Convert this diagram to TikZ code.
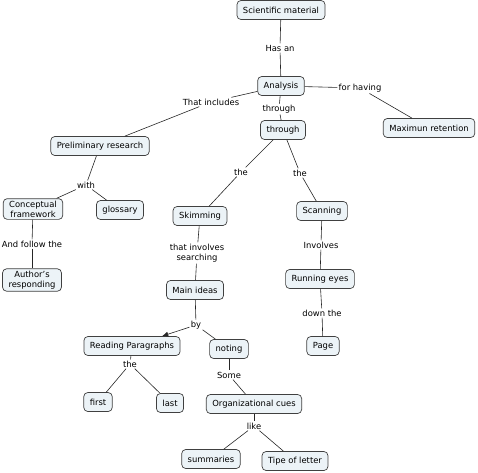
\documentclass[tikz,border=0pt]{standalone}
\usepackage{fontspec}
\setmainfont{DejaVu Sans}
\usepackage{xcolor}
\usetikzlibrary{positioning,arrows.meta}
\definecolor{conceptfill}{RGB}{236,243,247}

\begin{document}
\begin{tikzpicture}[x=1pt,y=-1pt,
 concept/.style={rectangle,rounded corners=4pt,draw=black!75,fill=conceptfill,line width=0.7pt,
   minimum height=19pt,inner xsep=6pt,inner ysep=2pt,font=\fontsize{8.4}{10.2}\selectfont,align=center},
 lab/.style={inner sep=1.2pt,font=\fontsize{8.4}{10.2}\selectfont,align=center},
 link/.style={draw=black!85,line width=0.6pt},
 linkarrow/.style={link,-{Latex[length=2.2mm,width=1.8mm]}}
]
\useasboundingbox (0,0) rectangle (478,472);

\node[concept] (sci) at (281,10) {Scientific material};
\node[concept] (ana) at (281,86) {Analysis};
\node[concept] (thr) at (283,130) {through};
\node[concept] (maxr) at (429,128) {Maximun retention};
\node[concept] (pre) at (100,146) {Preliminary research};
\node[concept] (conc) at (33,209) {Conceptual\\framework};
\node[concept] (glos) at (120,210) {glossary};
\node[concept] (auth) at (32,280) {Author's\\responding};
\node[concept] (skim) at (200,216) {Skimming};
\node[concept] (scan) at (322,211) {Scanning};
\node[concept] (main) at (195,290) {Main ideas};
\node[concept] (run) at (320,279) {Running eyes};
\node[concept] (page) at (323,346) {Page};
\node[concept] (read) at (132,346) {Reading Paragraphs};
\node[concept] (note) at (229,349) {noting};
\node[concept] (first) at (98,402) {first};
\node[concept] (last) at (170,403) {last};
\node[concept] (org) at (254,404) {Organizational cues};
\node[concept] (summ) at (211,459) {summaries};
\node[concept] (tipe) at (295,461) {Tipe of letter};

\node[lab] (hasan) at (280,48) {Has an};
\node[lab] (thrl) at (279,109) {through};
\node[lab] (forh) at (360,88) {for having};
\node[lab] (incl) at (211,102) {That includes};
\node[lab] (with) at (86,185) {with};
\node[lab] (follow) at (32,244) {And follow the};
\node[lab] (theL) at (241,172) {the};
\node[lab] (theR) at (300,173) {the};
\node[lab] (invs) at (197,253) {that involves\\searching};
\node[lab] (inv) at (321,245) {Involves};
\node[lab] (down) at (322,313) {down the};
\node[lab] (by) at (196,325) {by};
\node[lab] (the2) at (130,364) {the};
\node[lab] (some) at (229,375) {Some};
\node[lab] (like) at (254,426) {like};

\foreach \a/\b in {sci/hasan,hasan/ana,ana/thrl,thrl/thr,ana/forh,forh/maxr,
 ana/incl,incl/pre,pre/with,with/conc,with/glos,conc/follow,follow/auth,
 thr/theL,theL/skim,thr/theR,theR/scan,skim/invs,invs/main,scan/inv,inv/run,
 run/down,down/page,main/by,by/note,read/the2,the2/first,the2/last,
 note/some,some/org,org/like,like/summ,like/tipe}
 \draw[link] (\a)--(\b);

\draw[linkarrow] (by)--(read);
\end{tikzpicture}
\end{document}
